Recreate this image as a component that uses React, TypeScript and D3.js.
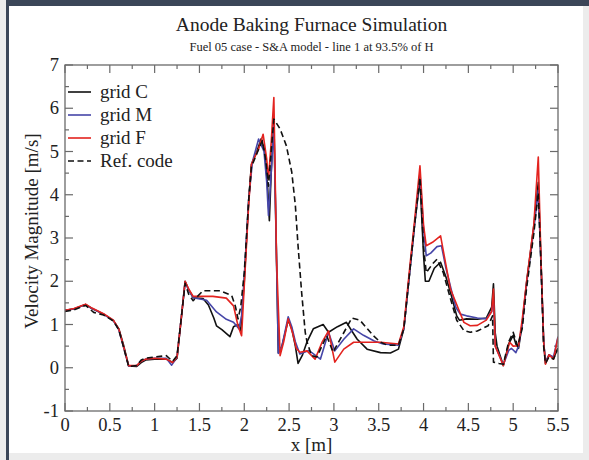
import * as d3 from "d3"

type Pt = [number, number]

const TITLE = "Anode Baking Furnace Simulation"
const SUBTITLE = "Fuel 05 case - S&A model - line 1 at 93.5% of H"
const X_LABEL = "x [m]"
const Y_LABEL = "Velocity Magnitude [m/s]"

const xTicks = [0, 0.5, 1, 1.5, 2, 2.5, 3, 3.5, 4, 4.5, 5, 5.5]
const yTicks = [-1, 0, 1, 2, 3, 4, 5, 6, 7]

// grid C (black solid)
const gridC: Pt[] = [
  [0, 1.33], [0.1, 1.36], [0.23, 1.46], [0.3, 1.37], [0.43, 1.24], [0.54, 1.09], [0.6, 0.9], [0.65, 0.55],
  [0.71, 0.04], [0.8, 0.03], [0.85, 0.12], [0.9, 0.18], [1.0, 0.2], [1.13, 0.2], [1.2, 0.12], [1.25, 0.22],
  [1.3, 1.2], [1.34, 2.0], [1.38, 1.8], [1.43, 1.62], [1.54, 1.6], [1.6, 1.45], [1.66, 1.15], [1.69, 0.97],
  [1.75, 0.88], [1.84, 0.72], [1.88, 0.95], [1.93, 1.0], [1.96, 0.85], [2.0, 2.0], [2.05, 3.9], [2.08, 4.7],
  [2.14, 5.0], [2.19, 5.3], [2.23, 5.0], [2.26, 4.2], [2.28, 3.4], [2.3, 4.5], [2.33, 5.75], [2.36, 2.5],
  [2.38, 0.35], [2.42, 0.5], [2.49, 1.1], [2.53, 0.9], [2.57, 0.5], [2.6, 0.1], [2.65, 0.3], [2.7, 0.6],
  [2.77, 0.9], [2.88, 1.0], [2.94, 0.82], [3.04, 0.95], [3.14, 1.05], [3.2, 0.85], [3.26, 0.66], [3.37, 0.43],
  [3.52, 0.35], [3.63, 0.34], [3.72, 0.43], [3.78, 0.9], [3.85, 2.3], [3.9, 3.3], [3.96, 4.36], [4.0, 2.6],
  [4.02, 2.0], [4.06, 2.0], [4.12, 2.3], [4.19, 2.44], [4.25, 2.1], [4.31, 1.67], [4.37, 1.2], [4.4, 1.1],
  [4.48, 1.13], [4.6, 1.12], [4.7, 1.15], [4.76, 1.4], [4.78, 1.94], [4.8, 0.8], [4.82, 0.5], [4.89, 0.05],
  [4.95, 0.55], [5.0, 0.75], [5.03, 0.55], [5.06, 0.45], [5.1, 1.0], [5.15, 1.98], [5.23, 3.28], [5.28, 4.29],
  [5.31, 2.5], [5.34, 0.6], [5.36, 0.1], [5.4, 0.3], [5.45, 0.22], [5.5, 0.45],
]

// grid M (blue)
const gridM: Pt[] = [
  [0, 1.33], [0.1, 1.36], [0.23, 1.46], [0.3, 1.37], [0.43, 1.24], [0.54, 1.09], [0.6, 0.88], [0.65, 0.5],
  [0.71, 0.04], [0.8, 0.05], [0.85, 0.15], [0.9, 0.2], [1.0, 0.22], [1.13, 0.22], [1.19, 0.06], [1.25, 0.25],
  [1.3, 1.2], [1.34, 1.98], [1.38, 1.8], [1.43, 1.62], [1.58, 1.56], [1.69, 1.29], [1.8, 1.12], [1.88, 1.05],
  [1.94, 0.9], [1.97, 1.2], [2.0, 2.1], [2.05, 3.9], [2.09, 4.75], [2.16, 5.29], [2.22, 5.0], [2.25, 4.3],
  [2.27, 3.52], [2.3, 4.5], [2.33, 5.6], [2.36, 2.5], [2.38, 0.33], [2.42, 0.5], [2.49, 1.18], [2.53, 0.95],
  [2.57, 0.6], [2.62, 0.32], [2.72, 0.4], [2.85, 0.2], [2.94, 0.82], [3.01, 0.39], [3.11, 0.66], [3.22, 0.9],
  [3.33, 0.75], [3.45, 0.62], [3.55, 0.55], [3.72, 0.52], [3.78, 0.9], [3.85, 2.3], [3.9, 3.3], [3.96, 4.5],
  [4.0, 3.2], [4.03, 2.59], [4.08, 2.65], [4.15, 2.8], [4.2, 2.82], [4.25, 2.3], [4.31, 1.8], [4.36, 1.4],
  [4.41, 1.24], [4.48, 1.2], [4.6, 1.15], [4.7, 1.13], [4.76, 1.3], [4.78, 1.6], [4.8, 0.5], [4.82, 0.4],
  [4.89, 0.07], [4.95, 0.4], [4.98, 0.45], [5.03, 0.35], [5.06, 0.5], [5.1, 1.0], [5.15, 1.95], [5.23, 3.2],
  [5.28, 4.1], [5.31, 2.4], [5.34, 0.6], [5.36, 0.15], [5.4, 0.3], [5.45, 0.25], [5.5, 0.72],
]

// grid F (red)
const gridF: Pt[] = [
  [0, 1.33], [0.1, 1.37], [0.23, 1.47], [0.3, 1.38], [0.43, 1.25], [0.54, 1.1], [0.6, 0.9], [0.65, 0.52],
  [0.71, 0.05], [0.8, 0.05], [0.85, 0.15], [0.9, 0.2], [1.0, 0.22], [1.13, 0.2], [1.2, 0.12], [1.25, 0.25],
  [1.3, 1.2], [1.34, 2.0], [1.38, 1.82], [1.43, 1.65], [1.65, 1.65], [1.8, 1.61], [1.88, 1.43], [1.93, 0.97],
  [1.97, 0.74], [2.0, 1.9], [2.05, 3.8], [2.08, 4.71], [2.16, 5.06], [2.21, 5.4], [2.25, 4.83], [2.27, 4.36],
  [2.3, 5.2], [2.33, 6.25], [2.36, 2.5], [2.4, 0.28], [2.44, 0.6], [2.49, 1.13], [2.54, 0.8], [2.58, 0.45],
  [2.62, 0.36], [2.7, 0.39], [2.79, 0.2], [2.87, 0.6], [2.94, 0.85], [3.01, 0.13], [3.11, 0.43], [3.22, 0.59],
  [3.52, 0.59], [3.72, 0.55], [3.78, 0.95], [3.85, 2.4], [3.9, 3.4], [3.96, 4.67], [4.0, 3.3], [4.03, 2.82],
  [4.1, 2.9], [4.19, 3.05], [4.23, 2.6], [4.3, 1.82], [4.39, 1.36], [4.45, 1.05], [4.52, 0.97], [4.6, 0.98],
  [4.7, 1.1], [4.76, 1.3], [4.78, 1.82], [4.8, 0.5], [4.84, 0.3], [4.89, 0.05], [4.96, 0.59], [5.0, 0.5],
  [5.06, 0.51], [5.1, 1.1], [5.15, 2.0], [5.23, 3.3], [5.28, 4.87], [5.31, 2.5], [5.34, 0.6], [5.36, 0.08],
  [5.4, 0.3], [5.45, 0.2], [5.5, 0.7],
]

// Ref. code (black dashed)
const refCode: Pt[] = [
  [0, 1.3], [0.1, 1.34], [0.23, 1.44], [0.32, 1.28], [0.43, 1.22], [0.54, 1.08], [0.6, 0.88], [0.65, 0.5],
  [0.71, 0.03], [0.8, 0.05], [0.85, 0.18], [0.9, 0.22], [1.0, 0.25], [1.13, 0.28], [1.2, 0.15], [1.25, 0.28],
  [1.3, 1.2], [1.34, 1.95], [1.38, 1.7], [1.43, 1.55], [1.54, 1.78], [1.73, 1.78], [1.86, 1.67], [1.9, 1.43],
  [1.93, 1.13], [1.96, 1.4], [2.0, 2.2], [2.05, 3.9], [2.08, 4.65], [2.15, 5.0], [2.2, 5.25], [2.24, 4.8],
  [2.27, 4.2], [2.3, 5.0], [2.33, 5.75], [2.4, 5.52], [2.47, 5.13], [2.53, 4.52], [2.57, 3.75], [2.6, 2.82],
  [2.64, 1.74], [2.68, 0.82], [2.7, 0.6], [2.75, 0.28], [2.81, 0.25], [2.92, 0.74], [2.99, 0.36], [3.07, 0.66],
  [3.2, 1.15], [3.29, 1.1], [3.44, 0.74], [3.52, 0.59], [3.6, 0.52], [3.72, 0.52], [3.78, 0.9], [3.85, 2.3],
  [3.9, 3.3], [3.96, 4.4], [4.0, 2.8], [4.03, 2.2], [4.1, 2.4], [4.15, 2.51], [4.22, 2.2], [4.3, 1.6],
  [4.37, 1.1], [4.45, 0.86], [4.52, 0.82], [4.6, 0.85], [4.72, 0.97], [4.77, 1.2], [4.78, 0.13], [4.84, 0.1],
  [4.89, 0.08], [4.95, 0.6], [5.0, 0.82], [5.05, 0.5], [5.1, 0.9], [5.15, 1.85], [5.23, 3.1], [5.28, 4.05],
  [5.31, 2.4], [5.34, 0.5], [5.36, 0.1], [5.4, 0.25], [5.45, 0.2], [5.5, 0.45],
]

const seriesNames = ["grid C", "grid M", "grid F", "Ref. code"]
const seriesData = [gridC, gridM, gridF, refCode]
const seriesColors = ["#111111", "#4646a8", "#e3231f", "#111111"]
const seriesDash = [null, null, null, "6,3.5"]

export default function App() {
  const W = 589
  const H = 460
  const left = 65, right = 558, top = 65, bottom = 411
  const font = "'Liberation Serif', 'Times New Roman', serif"
  const axisColor = "#6a6a6a"

  const x = d3.scaleLinear().domain([0, 5.5]).range([left, right])
  const y = d3.scaleLinear().domain([-1, 7]).range([bottom, top])

  const line = d3.line<Pt>().x((d) => x(d[0])).y((d) => y(d[1]))

  const xMinor = d3.range(0.25, 5.5, 0.5)
  const yMinor = d3.range(-0.5, 7, 1)

  return (
    <svg width={W} height={H} style={{ position: "absolute", left: 0, top: 0 }} fontFamily={font}>
      {/* page frame of the screenshot */}
      <rect x={0} y={0} width={W} height={H} fill="#ececec" />
      <rect x={8} y={6} width={575} height={447} fill="#ffffff" />
      <rect x={6} y={0} width={W - 6} height={6} fill="#3b4658" />
      <rect x={6} y={0} width={3} height={H} fill="#3b4658" />

      <text x={(left + right) / 2} y={31} textAnchor="middle" fontSize={19.5} fill="#222">{TITLE}</text>
      <text x={(left + right) / 2} y={51} textAnchor="middle" fontSize={12.5} fill="#222">{SUBTITLE}</text>

      <clipPath id="plot">
        <rect x={left} y={top} width={right - left} height={bottom - top} />
      </clipPath>

      {/* ticks, mirrored on all sides */}
      <g stroke={axisColor} strokeWidth={1.2}>
        {xTicks.map((t) => (
          <g key={"xt" + t}>
            <line x1={x(t)} x2={x(t)} y1={bottom} y2={bottom - 8} />
            <line x1={x(t)} x2={x(t)} y1={top} y2={top + 8} />
          </g>
        ))}
        {xMinor.map((t) => (
          <g key={"xm" + t}>
            <line x1={x(t)} x2={x(t)} y1={bottom} y2={bottom - 4} />
            <line x1={x(t)} x2={x(t)} y1={top} y2={top + 4} />
          </g>
        ))}
        {yTicks.map((t) => (
          <g key={"yt" + t}>
            <line x1={left} x2={left + 8} y1={y(t)} y2={y(t)} />
            <line x1={right} x2={right - 8} y1={y(t)} y2={y(t)} />
          </g>
        ))}
        {yMinor.map((t) => (
          <g key={"ym" + t}>
            <line x1={left} x2={left + 4} y1={y(t)} y2={y(t)} />
            <line x1={right} x2={right - 4} y1={y(t)} y2={y(t)} />
          </g>
        ))}
      </g>

      <g clipPath="url(#plot)" fill="none" strokeLinejoin="round">
        {seriesData.map((s, i) => (
          <path key={seriesNames[i]} d={line(s) as string} stroke={seriesColors[i]}
            strokeWidth={1.6} strokeDasharray={seriesDash[i] ?? undefined} />
        ))}
      </g>

      <rect x={left} y={top} width={right - left} height={bottom - top} fill="none" stroke={axisColor} strokeWidth={1.3} />

      {xTicks.map((t) => (
        <text key={"xl" + t} x={x(t)} y={431} textAnchor="middle" fontSize={18.5} fill="#222">{t}</text>
      ))}
      {yTicks.map((t) => (
        <text key={"yl" + t} x={59} y={y(t) + 6} textAnchor="end" fontSize={18.5} fill="#222">{t}</text>
      ))}

      <text x={(left + right) / 2} y={451} textAnchor="middle" fontSize={19} fill="#222">{X_LABEL}</text>
      <text transform={`translate(38, ${(top + bottom) / 2 - 7}) rotate(-90)`} textAnchor="middle" fontSize={19} fill="#222">{Y_LABEL}</text>

      {/* legend */}
      {seriesNames.map((n, i) => (
        <g key={"lg" + n} transform={`translate(0, ${92 + i * 23})`}>
          <line x1={68} x2={91} y1={0} y2={0} stroke={seriesColors[i]} strokeWidth={1.6}
            strokeDasharray={seriesDash[i] ?? undefined} />
          <text x={100} y={6} fontSize={19} fill="#222">{n}</text>
        </g>
      ))}
    </svg>
  )
}
